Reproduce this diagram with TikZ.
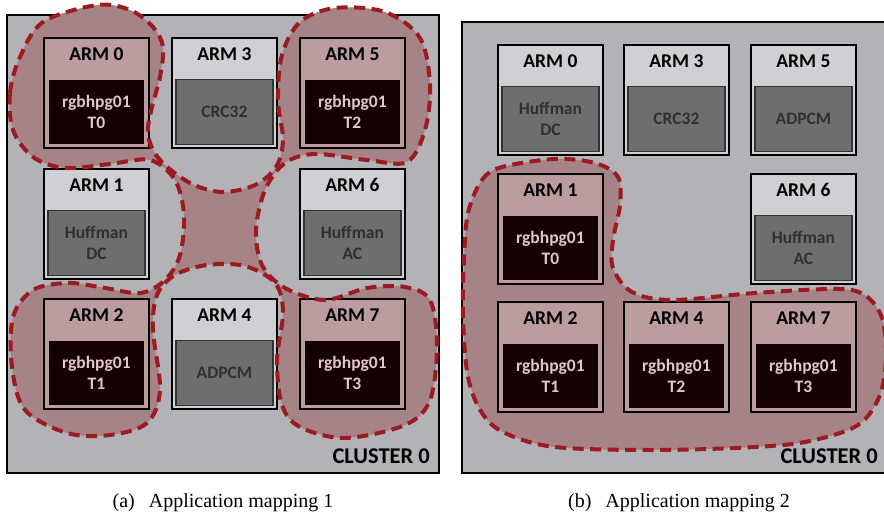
\documentclass[tikz,border=0pt]{standalone}
\usepackage{fontspec}
\setmainfont{Liberation Serif}
\newfontfamily\calibri{Carlito}
\usetikzlibrary{math}

\definecolor{clusterbg}{RGB}{179,178,183}
\definecolor{hdgray}{RGB}{208,208,212}
\definecolor{hdpink}{RGB}{187,156,159}
\definecolor{taskgray}{RGB}{110,110,112}
\definecolor{tasktext}{RGB}{48,48,50}
\definecolor{hotfill}{RGB}{20,0,2}
\definecolor{hottext}{RGB}{228,198,201}
\definecolor{blobpink}{RGB}{165,131,135}
\definecolor{blobred}{RGB}{155,27,32}

\begin{document}
\begin{tikzpicture}[x=1pt,y=-1pt,
	cluster/.style={draw=black,line width=1.8pt,fill=clusterbg},
	coldtile/.style={draw=black,line width=1.8pt,fill=hdgray,minimum width=105pt,minimum height=110pt,inner sep=0pt,anchor=north west},
	hottile/.style={coldtile,fill=hdpink},
	coldbox/.style={draw=black!80,line width=1.3pt,fill=taskgray,text=tasktext,minimum width=97pt,minimum height=65pt,inner sep=0pt,anchor=south,align=center,font=\calibri\bfseries\fontsize{17.5}{21}\selectfont},
	hotbox/.style={coldbox,draw=hdpink,fill=hotfill,text=hottext},
	armlbl/.style={font=\calibri\bfseries\fontsize{19.5}{22}\selectfont,inner sep=0pt},
	clusterlbl/.style={font=\calibri\bfseries\fontsize{22.5}{26}\selectfont,inner sep=0pt,anchor=base east},
	caption/.style={font=\fontsize{20}{24}\selectfont,inner sep=0pt,anchor=base},
	blobline/.style={draw=blobred,line width=4pt,dash pattern=on 11pt off 6.5pt},
	blobfill/.style={fill=blobpink}]

	\useasboundingbox (0,0) rectangle (884,514);

	\tikzmath{\ax = 7; \bx = 462;};
	\draw [cluster] (\ax,15) rectangle (439,473);
	\draw [cluster] (\bx,22) rectangle (895,473);

	\path [save path=\blobA] plot [smooth cycle, tension=0.55] coordinates {
		(13,130) (10,93) (20,57) (43,22) (97,5) (130,10) (153,27) (163,47) (160,77) (152,107) (148,135)
		(160,160) (190,183) (222,192) (255,185) (276,167)
		(283,140) (278,100) (282,55) (300,22) (335,8) (385,12) (420,38) (430,85) (425,130) (407,162)
		(367,160) (315,154)
		(285,163) (265,190) (256,230) (262,265) (285,288)
		(325,300) (367,288) (405,287) (430,300)
		(437,345) (430,400) (405,425)
		(345,438) (300,427) (282,405)
		(277,360) (283,312)
		(275,283) (245,266) (207,265) (175,275) (157,295)
		(153,330) (160,390) (147,423)
		(110,435) (67,433) (25,410)
		(12,367) (13,317)
		(33,290) (67,283) (100,287) (140,293)
		(165,280) (180,255) (184,215) (175,180)
		(150,160) (110,164) (65,168) (33,157)};
	\path [save path=\blobB] plot [smooth cycle, tension=0.55] coordinates {
		(468,213) (482,180) (502,167) (555,159) (595,163) (618,177) (620,205) (613,240) (613,268)
		(632,292) (672,300) (755,293) (838,289) (866,296) (882,318) (886,355) (880,395) (858,425)
		(810,441) (755,447) (655,450) (555,447) (505,433) (482,413) (468,377) (463,317) (464,260)};
	\fill [blobfill, use path=\blobA];
	\fill [blobfill, use path=\blobB];

	\foreach \x/\y/\n/\a/\hs/\ts/\t in {
		43/37/a0/ARM 0/hottile/hotbox/{rgbhpg01\\T0},
		171/37/a3/ARM 3/coldtile/coldbox/CRC32,
		299/37/a5/ARM 5/hottile/hotbox/{rgbhpg01\\T2},
		43/168/a1/ARM 1/coldtile/coldbox/{Huffman\\DC},
		299/168/a6/ARM 6/coldtile/coldbox/{Huffman\\AC},
		43/298/a2/ARM 2/hottile/hotbox/{rgbhpg01\\T1},
		171/298/a4/ARM 4/coldtile/coldbox/ADPCM,
		299/298/a7/ARM 7/hottile/hotbox/{rgbhpg01\\T3},
		497/44/b0/ARM 0/coldtile/coldbox/{Huffman\\DC},
		623/44/b3/ARM 3/coldtile/coldbox/CRC32,
		750/44/b5/ARM 5/coldtile/coldbox/ADPCM,
		497/173/b1/ARM 1/hottile/hotbox/{rgbhpg01\\T0},
		750/173/b6/ARM 6/coldtile/coldbox/{Huffman\\AC},
		497/301/b2/ARM 2/hottile/hotbox/{rgbhpg01\\T1},
		623/301/b4/ARM 4/hottile/hotbox/{rgbhpg01\\T2},
		750/301/b7/ARM 7/hottile/hotbox/{rgbhpg01\\T3}}{
		\node [\hs] (\n) at (\x,\y) {};
		\node [armlbl] (\n-h) at ([yshift=-17pt]\n.north) {\a};
		\node [\ts] (\n-t) at ([yshift=4pt]\n.south) {\t};
	}

	\draw [blobline, use path=\blobA];
	\draw [blobline, use path=\blobB];

	\node [clusterlbl] (clua) at (430,463) {CLUSTER 0};
	\node [clusterlbl] (club) at (878,463) {CLUSTER 0};

	\node [caption] (capa) at (223,507) {(a)\hspace{14pt}Application mapping 1};
	\node [caption] (capb) at (679,507) {(b)\hspace{14pt}Application mapping 2};

\end{tikzpicture}
\end{document}
